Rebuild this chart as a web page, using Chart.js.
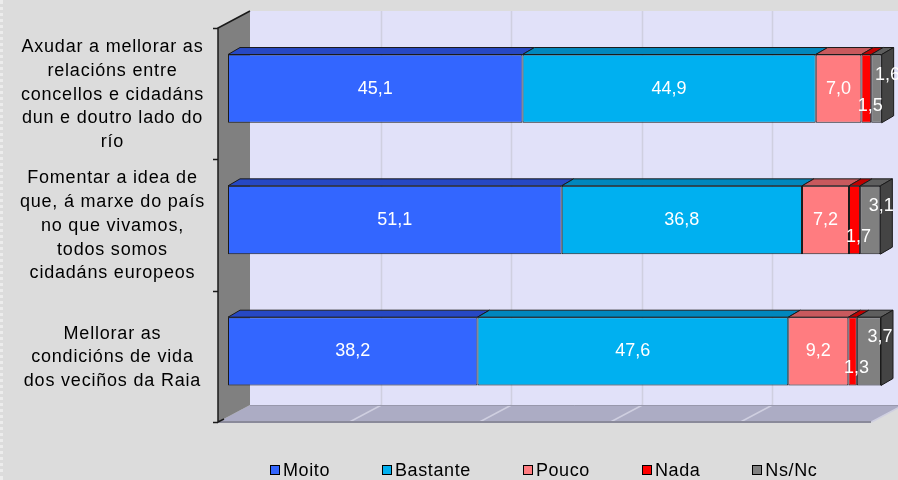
<!DOCTYPE html>
<html>
<head>
<meta charset="utf-8">
<script src="https://cdn.jsdelivr.net/npm/chart.js@4.4.1/dist/chart.umd.min.js"></script>
<style>
html,body{margin:0;padding:0;background:#dcdcdc}
#wrap{position:relative;width:898px;height:480px;overflow:hidden}
#wrap:before{content:"";position:absolute;left:0;top:0;bottom:0;border-left:3px dotted #ececec}
#legend{position:absolute;left:270px;top:460px;display:flex;gap:52px;font:18px "Liberation Sans",Arial,sans-serif;letter-spacing:.6px;line-height:20px;color:#000}
#legend span{display:flex;align-items:center}
#legend i{display:inline-block;width:8px;height:8px;border:1px solid #000;margin-right:3px}
</style>
</head>
<body>
<div id="wrap">
<canvas id="c" width="898" height="480"></canvas>
<div id="legend"></div>
</div>
<script>
const categories=[
  ["Axudar a mellorar as","relacións entre","concellos e cidadáns","dun e doutro lado do","río"],
  ["Fomentar a idea de","que, á marxe do país","no que vivamos,","todos somos","cidadáns europeos"],
  ["Mellorar as","condicións de vida","dos veciños da Raia"]
];
const seriesNames=["Moito","Bastante","Pouco","Nada","Ns/Nc"];
const moito=[45.1,51.1,38.2];
const bastante=[44.9,36.8,47.6];
const pouco=[7.0,7.2,9.2];
const nada=[1.5,1.7,1.3];
const nsnc=[1.6,3.1,3.7];
const xTicks=[0,20,40,60,80,100];

const fronts=["#3366ff","#00b0f0","#ff7c80","#ff0000","#808080"];
const tops=["#2648c4","#0087bd","#c8595d","#c00000","#5e5e5e"];
const FONT='"Liberation Sans",Arial,sans-serif';

function poly(ctx,pts,fill,stroke){
  ctx.beginPath();ctx.moveTo(pts[0][0],pts[0][1]);
  for(let i=1;i<pts.length;i++)ctx.lineTo(pts[i][0],pts[i][1]);
  ctx.closePath();
  if(fill){ctx.fillStyle=fill;ctx.fill()}
  if(stroke){ctx.strokeStyle=stroke;ctx.lineWidth=1;ctx.stroke()}
}

// front plane is (-10,+5) from the bars, back wall (+22,-12)
const FX=-10,FY=5,BX=22,BY=-12,DX=12,DY=-7;

// canvas resize wipes ctx state, so set the spacing again before layout and draw
const spacing={id:"spacing",
  beforeUpdate(c){if("letterSpacing" in c.ctx)c.ctx.letterSpacing="0.8px"},
  beforeDraw(c){if("letterSpacing" in c.ctx)c.ctx.letterSpacing="0.8px"}};

const walls={id:"walls",beforeDatasetsDraw(c){
  const {ctx,chartArea:a,scales:{x}}=c;
  ctx.save();
  ctx.fillStyle="#e1e1f9";
  ctx.fillRect(a.left+BX,a.top+BY,a.right-a.left+40,a.bottom-a.top);
  poly(ctx,[[a.left+FX,a.bottom+FY],[a.left+BX,a.bottom+BY],[a.right+BX,a.bottom+BY],[a.right+FX,a.bottom+FY]],"#acacc4");
  ctx.strokeStyle="#cfcfe0";ctx.lineWidth=1.5;
  xTicks.slice(1).forEach(v=>{
    const px=Math.round(x.getPixelForValue(v))+.5;
    ctx.beginPath();ctx.moveTo(px+BX,a.top+BY);ctx.lineTo(px+BX,a.bottom+BY);
    ctx.lineTo(px+FX,a.bottom+FY);ctx.stroke();
  });
  ctx.strokeStyle="#9898ac";ctx.lineWidth=1;
  ctx.beginPath();ctx.moveTo(a.left+BX,a.bottom+BY+.5);ctx.lineTo(a.right+BX+40,a.bottom+BY+.5);ctx.stroke();
  ctx.strokeStyle="#8a8a9a";ctx.lineWidth=2;
  ctx.beginPath();ctx.moveTo(a.left+FX,a.bottom+FY);ctx.lineTo(a.right+FX,a.bottom+FY);ctx.stroke();
  poly(ctx,[[a.left+FX,a.top+FY],[a.left+BX,a.top+BY],[a.left+BX,a.bottom+BY],[a.left+FX,a.bottom+FY]],"#808080");
  ctx.strokeStyle="#1a1a1a";ctx.lineWidth=1.5;
  ctx.beginPath();ctx.moveTo(a.left+BX,a.top+BY);ctx.lineTo(a.left+FX,a.top+FY);
  ctx.lineTo(a.left+FX,a.bottom+FY);ctx.lineTo(a.left+FX+6,a.bottom+FY-3);ctx.stroke();
  const n=categories.length,h=(a.bottom-a.top)/n;
  for(let i=0;i<=n;i++){
    const y=Math.round(a.top+FY+i*h)+.5;
    ctx.beginPath();ctx.moveTo(a.left+FX-5,y);ctx.lineTo(a.left+FX,y);ctx.stroke();
  }
  ctx.restore();
}};

const faces={id:"faces",afterDatasetsDraw(c){
  const ctx=c.ctx,last=c.data.datasets.length-1;
  ctx.save();
  c.data.datasets.forEach((ds,di)=>{
    c.getDatasetMeta(di).data.forEach(b=>{
      const xl=Math.min(b.x,b.base),xr=Math.max(b.x,b.base),t=b.y-b.height/2,bt=b.y+b.height/2;
      poly(ctx,[[xl,t],[xl+DX,t+DY],[xr+DX,t+DY],[xr,t]],tops[di],"#1a1a1a");
      if(di===last)poly(ctx,[[xr,t],[xr+DX,t+DY],[xr+DX,bt+DY],[xr,bt]],"#444444","#1a1a1a");
    });
  });
  const offs=[[0,0],[0,0],[0,0],[4,17],[11,-14]];
  ctx.fillStyle="#fff";ctx.font="18px "+FONT;ctx.textAlign="center";ctx.textBaseline="middle";
  if("letterSpacing" in ctx)ctx.letterSpacing="0px";
  c.data.datasets.forEach((ds,di)=>{
    c.getDatasetMeta(di).data.forEach((b,i)=>{
      const cx=(b.x+b.base)/2+offs[di][0],cy=b.y+offs[di][1];
      ctx.fillText(ds.data[i].toFixed(1).replace(".",","),cx,cy);
    });
  });
  ctx.restore();
}};

const series=[moito,bastante,pouco,nada,nsnc];
const chart=new Chart(document.getElementById("c"),{
  type:"bar",
  data:{labels:categories,datasets:series.map((d,i)=>({label:seriesNames[i],data:d,backgroundColor:fronts[i],borderColor:"#1a1a1a",borderWidth:1,borderSkipped:false,barPercentage:.52,categoryPercentage:1,clip:false}))},
  options:{
    indexAxis:"y",responsive:false,animation:false,
    layout:{padding:{top:23,right:17,bottom:63,left:0}},
    plugins:{legend:{display:false},tooltip:{enabled:false}},
    scales:{
      x:{display:false,stacked:true,min:0,max:100},
      y:{stacked:true,grid:{display:false,drawTicks:false},border:{display:false},
        ticks:{color:"#000",font:{family:FONT,size:18,lineHeight:1.32},crossAlign:"center",padding:23,labelOffset:6},
        afterFit(s){s.width=228;s.paddingTop=0;s.paddingBottom=0}}
    }
  },
  plugins:[spacing,walls,faces]
});

document.getElementById("legend").innerHTML=seriesNames.map((n,i)=>`<span><i style="background:${fronts[i]}"></i>${n}</span>`).join("");
</script>
</body>
</html>
